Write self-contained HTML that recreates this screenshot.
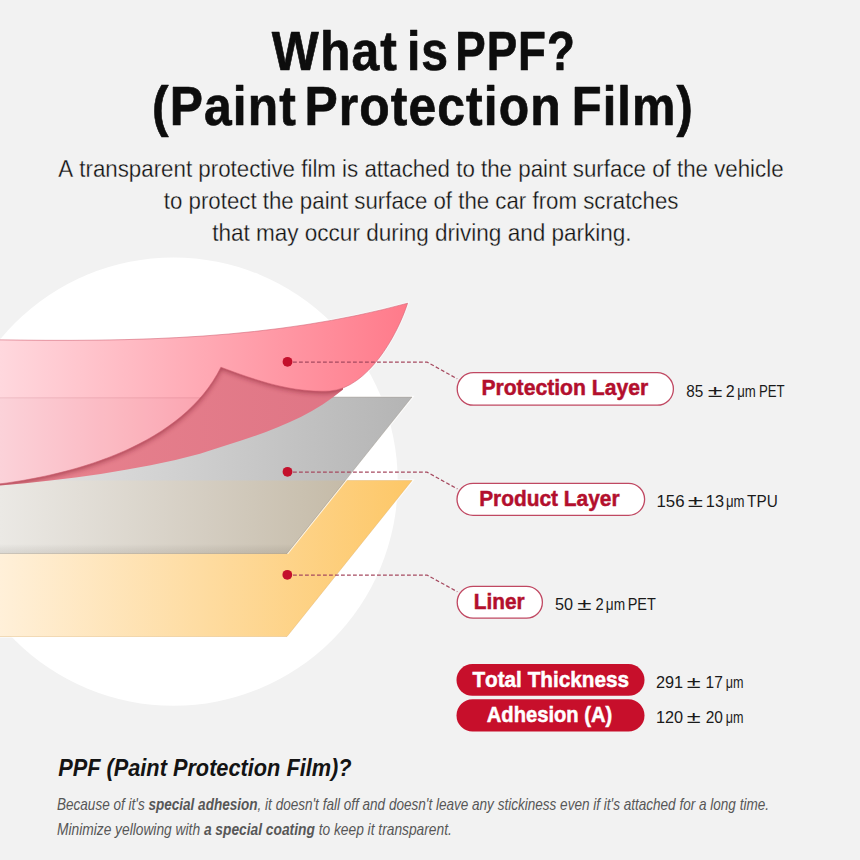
<!DOCTYPE html>
<html><head><meta charset="utf-8">
<style>
html,body{margin:0;padding:0;background:#f2f2f2;}
body{width:860px;height:860px;overflow:hidden;}
svg{display:block;}
text{font-family:"Liberation Sans",sans-serif;font-kerning:none;white-space:pre;}
</style></head>
<body>
<svg width="860" height="860" viewBox="0 0 860 860">
<defs>
  <linearGradient id="gPink" x1="0" y1="0" x2="408" y2="0" gradientUnits="userSpaceOnUse">
    <stop offset="0" stop-color="#ffd8de"/>
    <stop offset="0.5" stop-color="#ffa9b4"/>
    <stop offset="1" stop-color="#ff7a8a"/>
  </linearGradient>
  <linearGradient id="gDark" x1="0" y1="0" x2="350" y2="0" gradientUnits="userSpaceOnUse">
    <stop offset="0" stop-color="#e8838f"/>
    <stop offset="1" stop-color="#df7585"/>
  </linearGradient>
  <linearGradient id="gGray" x1="0" y1="0" x2="412" y2="0" gradientUnits="userSpaceOnUse">
    <stop offset="0" stop-color="#e6e6e6"/>
    <stop offset="1" stop-color="#b4b4b4"/>
  </linearGradient>
  <linearGradient id="gOver" x1="0" y1="0" x2="345" y2="0" gradientUnits="userSpaceOnUse">
    <stop offset="0" stop-color="#ebe9e5"/>
    <stop offset="0.6" stop-color="#d4cdc1"/>
    <stop offset="1" stop-color="#c5bba8"/>
  </linearGradient>
  <linearGradient id="gYel" x1="0" y1="0" x2="412" y2="0" gradientUnits="userSpaceOnUse">
    <stop offset="0" stop-color="#fff0d9"/>
    <stop offset="1" stop-color="#fdc767"/>
  </linearGradient>
  <linearGradient id="gShade" x1="0" y1="544" x2="0" y2="553.5" gradientUnits="userSpaceOnUse">
    <stop offset="0" stop-color="#000" stop-opacity="0"/>
    <stop offset="1" stop-color="#3a3020" stop-opacity="0.10"/>
  </linearGradient>
  <filter id="blur1" x="-10%" y="-10%" width="120%" height="130%"><feGaussianBlur stdDeviation="1.2"/></filter>
  <filter id="blur2" x="-10%" y="-10%" width="120%" height="130%"><feGaussianBlur stdDeviation="2.4"/></filter>
  <clipPath id="clipDark"><path d="M221,358 L343,386 L343,389.5 C302.6,423.8 249.3,437.9 200.0,453.7 C133.2,471.6 63.7,479.7 -5.0,486.0 L-5,470 Z"/></clipPath>
  <clipPath id="clipLight"><path d="M-5,339.8 C133.3,341.9 273.3,339.9 407.6,303.2 C397.5,335.3 367.9,387.8 330.0,391.0 C291.4,392.9 256.6,380.5 220.9,367.2 C182.3,445.2 74.2,474.9 -5.0,484.5 Z"/></clipPath>
</defs>
<rect width="860" height="860" fill="#f2f2f2"/>
<circle cx="173.5" cy="481.6" r="224.2" fill="#ffffff"/>
<path d="M-5,480.5 L412,480.5 L287,636.5 L-5,636.5" fill="none" stroke="#ffffff" stroke-opacity="0.75" stroke-width="2.6" stroke-linejoin="miter"/>
<path d="M-5,480.5 L412,480.5 L287,636.5 L-5,636.5 Z" fill="url(#gYel)" stroke="#d9a65a" stroke-opacity="0.35" stroke-width="1"/>
<path d="M-5,397 L412,397 L287,553.5" fill="none" stroke="#ffffff" stroke-opacity="0.75" stroke-width="2.6" stroke-linejoin="miter"/>
<path d="M-5,397 L412,397 L287,553.5 L-5,553.5 Z" fill="url(#gGray)"/>
<path d="M-5,480.5 L345.2,480.5 L287,553.5 L-5,553.5 Z" fill="url(#gOver)"/>
<path d="M-5,544 L294,544 L287,553.5 L-5,553.5 Z" fill="url(#gShade)"/>
<path d="M-5,397 L412,397 L287,553.5 L-5,553.5 Z" fill="none" stroke="#8a8070" stroke-opacity="0.3" stroke-width="1"/>
<path d="M-5,339.8 C133.3,341.9 273.3,339.9 407.6,303.2 C397.5,335.3 367.9,387.8 330.0,391.0 C291.4,392.9 256.6,380.5 220.9,367.2 C182.3,445.2 74.2,474.9 -5.0,484.5 Z" fill="none" stroke="#ffffff" stroke-opacity="0.6" stroke-width="2.6"/>
<path d="M221,358 L343,386 L343,389.5 C302.6,423.8 249.3,437.9 200.0,453.7 C133.2,471.6 63.7,479.7 -5.0,486.0 L-5,470 Z" fill="url(#gDark)"/>
<g clip-path="url(#clipDark)"><path d="M-5,339.8 C133.3,341.9 273.3,339.9 407.6,303.2 C397.5,335.3 367.9,387.8 330.0,391.0 C291.4,392.9 256.6,380.5 220.9,367.2 C182.3,445.2 74.2,474.9 -5.0,484.5 Z" fill="#7a1828" opacity="0.5" filter="url(#blur2)" transform="translate(0.5,2.2)"/></g>
<path d="M-5,339.8 C133.3,341.9 273.3,339.9 407.6,303.2 C397.5,335.3 367.9,387.8 330.0,391.0 C291.4,392.9 256.6,380.5 220.9,367.2 C182.3,445.2 74.2,474.9 -5.0,484.5 Z" fill="url(#gPink)" stroke="#cf5d70" stroke-opacity="0.55" stroke-width="1"/>
<g clip-path="url(#clipLight)"><rect x="-5" y="397.5" width="420" height="100" fill="#7a2030" opacity="0.03"/><path d="M-5,397.8 H420" stroke="#7a2030" stroke-opacity="0.07" stroke-width="1.4"/></g>
<g stroke="#a64a60" stroke-width="1.25" fill="none" stroke-dasharray="3.8 2.2">
  <path d="M293,362 L427,362 L457.2,378.8"/>
  <path d="M293,472.1 L427,472.1 L457.4,488.9"/>
  <path d="M293,575 L427,575 L457.4,591.8"/>
</g>
<g fill="#c4102c">
  <circle cx="287.5" cy="361.8" r="4.9"/>
  <circle cx="287.5" cy="471.8" r="4.9"/>
  <circle cx="287.3" cy="574.8" r="4.9"/>
</g>
<g fill="#ffffff" stroke="#c04862" stroke-width="1.3">
  <rect x="457.2" y="372.7" width="216.2" height="32.5" rx="16.25"/>
  <rect x="457" y="483.3" width="187.6" height="32" rx="16"/>
  <rect x="457.2" y="586.3" width="85.2" height="31.8" rx="15.9"/>
</g>
<g fill="#c70f2b">
  <rect x="456.5" y="664" width="188" height="31.8" rx="15.9"/>
  <rect x="456.5" y="699.3" width="188" height="32.2" rx="16.1"/>
</g>
<text x="271.80" y="70.00" font-size="55.50" font-weight="bold" font-style="normal" fill="#0d0d0d" textLength="126.03" lengthAdjust="spacingAndGlyphs" stroke="#0d0d0d" stroke-width="0.7" stroke-linejoin="round" letter-spacing="1.2">What</text>
<text x="406.89" y="70.00" font-size="55.50" font-weight="bold" font-style="normal" fill="#0d0d0d" textLength="42.16" lengthAdjust="spacingAndGlyphs" stroke="#0d0d0d" stroke-width="0.7" stroke-linejoin="round" letter-spacing="1.2">is</text>
<text x="455.23" y="70.00" font-size="55.50" font-weight="bold" font-style="normal" fill="#0d0d0d" textLength="120.51" lengthAdjust="spacingAndGlyphs" stroke="#0d0d0d" stroke-width="0.7" stroke-linejoin="round" letter-spacing="1.2">PPF?</text>
<text x="152.12" y="124.80" font-size="55.50" font-weight="bold" font-style="normal" fill="#0d0d0d" textLength="144.72" lengthAdjust="spacingAndGlyphs" stroke="#0d0d0d" stroke-width="0.7" stroke-linejoin="round" letter-spacing="1.2">(Paint</text>
<text x="304.51" y="124.80" font-size="55.50" font-weight="bold" font-style="normal" fill="#0d0d0d" textLength="257.19" lengthAdjust="spacingAndGlyphs" stroke="#0d0d0d" stroke-width="0.7" stroke-linejoin="round" letter-spacing="1.2">Protection</text>
<text x="571.81" y="124.80" font-size="55.50" font-weight="bold" font-style="normal" fill="#0d0d0d" textLength="121.95" lengthAdjust="spacingAndGlyphs" stroke="#0d0d0d" stroke-width="0.7" stroke-linejoin="round" letter-spacing="1.2">Film)</text>
<text x="58.20" y="176.90" font-size="24.40" font-weight="normal" font-style="normal" fill="#111111" textLength="725.41" lengthAdjust="spacingAndGlyphs" stroke="#f2f2f2" stroke-width="0.3">A transparent protective film is attached to the paint surface of the vehicle</text>
<text x="163.79" y="208.90" font-size="24.40" font-weight="normal" font-style="normal" fill="#111111" textLength="514.61" lengthAdjust="spacingAndGlyphs" stroke="#f2f2f2" stroke-width="0.3">to protect the paint surface of the car from scratches</text>
<text x="212.19" y="241.10" font-size="24.40" font-weight="normal" font-style="normal" fill="#111111" textLength="419.42" lengthAdjust="spacingAndGlyphs" stroke="#f2f2f2" stroke-width="0.3">that may occur during driving and parking.</text>
<text x="481.38" y="395.40" font-size="22.60" font-weight="bold" font-style="normal" fill="#b30f2d" textLength="166.84" lengthAdjust="spacingAndGlyphs" stroke="#b30f2d" stroke-width="0.5">Protection Layer</text>
<text x="479.17" y="505.60" font-size="22.60" font-weight="bold" font-style="normal" fill="#b30f2d" textLength="140.43" lengthAdjust="spacingAndGlyphs" stroke="#b30f2d" stroke-width="0.5">Product Layer</text>
<text x="473.74" y="608.50" font-size="22.60" font-weight="bold" font-style="normal" fill="#b30f2d" textLength="50.89" lengthAdjust="spacingAndGlyphs" stroke="#b30f2d" stroke-width="0.5">Liner</text>
<text x="472.39" y="686.60" font-size="22.30" font-weight="bold" font-style="normal" fill="#ffffff" textLength="156.63" lengthAdjust="spacingAndGlyphs" stroke="#ffffff" stroke-width="0.5">Total Thickness</text>
<text x="486.78" y="721.50" font-size="22.30" font-weight="bold" font-style="normal" fill="#ffffff" textLength="125.44" lengthAdjust="spacingAndGlyphs" stroke="#ffffff" stroke-width="0.5">Adhesion (A)</text>
<text x="686.20" y="396.80" font-size="17.30" font-weight="normal" font-style="normal" fill="#1a1a1a" textLength="17.03" lengthAdjust="spacingAndGlyphs">85</text>
<text x="707.86" y="396.80" font-size="15.80" font-weight="normal" font-style="normal" fill="#1a1a1a" textLength="14.71" lengthAdjust="spacingAndGlyphs">±</text>
<text x="725.63" y="396.80" font-size="17.30" font-weight="normal" font-style="normal" fill="#1a1a1a" textLength="8.95" lengthAdjust="spacingAndGlyphs">2</text>
<text x="737.26" y="396.80" font-size="17.30" font-weight="normal" font-style="normal" fill="#1a1a1a" textLength="18.60" lengthAdjust="spacingAndGlyphs">μm</text>
<text x="758.89" y="396.80" font-size="17.30" font-weight="normal" font-style="normal" fill="#1a1a1a" textLength="25.75" lengthAdjust="spacingAndGlyphs">PET</text>
<text x="656.47" y="506.80" font-size="17.30" font-weight="normal" font-style="normal" fill="#1a1a1a" textLength="28.02" lengthAdjust="spacingAndGlyphs">156</text>
<text x="687.81" y="506.80" font-size="15.80" font-weight="normal" font-style="normal" fill="#1a1a1a" textLength="15.24" lengthAdjust="spacingAndGlyphs">±</text>
<text x="705.85" y="506.80" font-size="17.30" font-weight="normal" font-style="normal" fill="#1a1a1a" textLength="18.15" lengthAdjust="spacingAndGlyphs">13</text>
<text x="725.89" y="506.80" font-size="17.30" font-weight="normal" font-style="normal" fill="#1a1a1a" textLength="18.60" lengthAdjust="spacingAndGlyphs">μm</text>
<text x="747.12" y="506.80" font-size="17.30" font-weight="normal" font-style="normal" fill="#1a1a1a" textLength="30.60" lengthAdjust="spacingAndGlyphs">TPU</text>
<text x="554.89" y="609.90" font-size="17.30" font-weight="normal" font-style="normal" fill="#1a1a1a" textLength="18.03" lengthAdjust="spacingAndGlyphs">50</text>
<text x="577.19" y="609.90" font-size="15.80" font-weight="normal" font-style="normal" fill="#1a1a1a" textLength="14.24" lengthAdjust="spacingAndGlyphs">±</text>
<text x="595.52" y="609.90" font-size="17.30" font-weight="normal" font-style="normal" fill="#1a1a1a" textLength="8.22" lengthAdjust="spacingAndGlyphs">2</text>
<text x="605.87" y="609.90" font-size="17.30" font-weight="normal" font-style="normal" fill="#1a1a1a" textLength="19.27" lengthAdjust="spacingAndGlyphs">μm</text>
<text x="627.66" y="609.90" font-size="17.30" font-weight="normal" font-style="normal" fill="#1a1a1a" textLength="28.24" lengthAdjust="spacingAndGlyphs">PET</text>
<text x="655.91" y="688.00" font-size="17.30" font-weight="normal" font-style="normal" fill="#1a1a1a" textLength="27.17" lengthAdjust="spacingAndGlyphs">291</text>
<text x="686.85" y="688.00" font-size="15.80" font-weight="normal" font-style="normal" fill="#1a1a1a" textLength="13.90" lengthAdjust="spacingAndGlyphs">±</text>
<text x="705.61" y="688.00" font-size="17.30" font-weight="normal" font-style="normal" fill="#1a1a1a" textLength="17.20" lengthAdjust="spacingAndGlyphs">17</text>
<text x="725.80" y="688.00" font-size="17.30" font-weight="normal" font-style="normal" fill="#1a1a1a" textLength="17.77" lengthAdjust="spacingAndGlyphs">μm</text>
<text x="655.91" y="722.60" font-size="17.30" font-weight="normal" font-style="normal" fill="#1a1a1a" textLength="27.13" lengthAdjust="spacingAndGlyphs">120</text>
<text x="686.85" y="722.60" font-size="15.80" font-weight="normal" font-style="normal" fill="#1a1a1a" textLength="13.90" lengthAdjust="spacingAndGlyphs">±</text>
<text x="705.71" y="722.60" font-size="17.30" font-weight="normal" font-style="normal" fill="#1a1a1a" textLength="17.20" lengthAdjust="spacingAndGlyphs">20</text>
<text x="725.80" y="722.60" font-size="17.30" font-weight="normal" font-style="normal" fill="#1a1a1a" textLength="17.77" lengthAdjust="spacingAndGlyphs">μm</text>
<text x="58.19" y="776.40" font-size="23.70" font-weight="bold" font-style="italic" fill="#141414" textLength="293.42" lengthAdjust="spacingAndGlyphs">PPF (Paint Protection Film)?</text>
<text x="57.00" y="809.90" font-size="15.90" font-weight="normal" font-style="italic" fill="#575757" textLength="712.01" lengthAdjust="spacingAndGlyphs">Because of it's <tspan font-weight="bold">special adhesion</tspan>, it doesn't fall off and doesn't leave any stickiness even if it's attached for a long time.</text>
<text x="56.99" y="834.60" font-size="15.90" font-weight="normal" font-style="italic" fill="#575757" textLength="394.82" lengthAdjust="spacingAndGlyphs">Minimize yellowing with <tspan font-weight="bold">a special coating</tspan> to keep it transparent.</text>
</svg>
</body></html>
